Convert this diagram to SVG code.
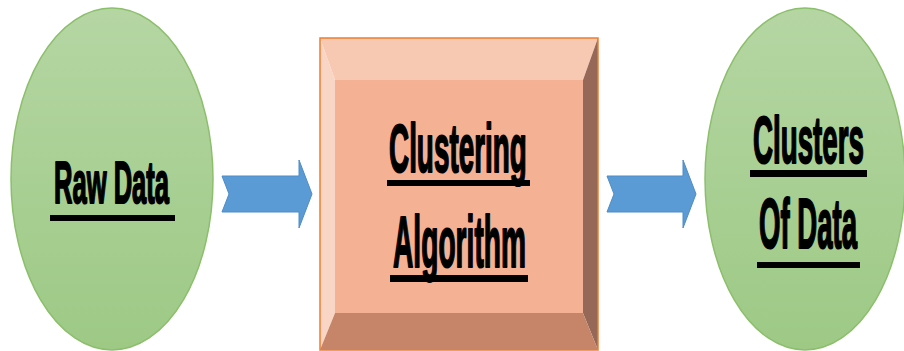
<svg xmlns="http://www.w3.org/2000/svg" width="904" height="351" viewBox="0 0 904 351">
  <defs>
    <linearGradient id="greenFill" x1="0" y1="0" x2="0" y2="1">
      <stop offset="0" stop-color="#B5D6A3"/>
      <stop offset="1" stop-color="#9DC985"/>
    </linearGradient>
    <style>
      .oval { fill: url(#greenFill); stroke: #8CBF6C; stroke-width: 1.5; }
      .arrow { fill: #5B9BD5; stroke: #4F8CC6; stroke-width: 1; }
      .label { font-family: "Liberation Sans", Arial, sans-serif; font-weight: bold; fill: #000000;
               stroke: #000000; stroke-width: 1.6; stroke-linejoin: round; }
      .uline { fill: #000000; }
      .bevel-top { fill: #F7C9B2; }
      .bevel-left { fill: #F9D5C5; }
      .bevel-right { fill: #956857; }
      .bevel-bottom { fill: #C68468; }
      .face { fill: #F5B194; }
      .frame { fill: none; stroke: #ED7D31; stroke-width: 1.5; }
    </style>
  </defs>

  <!-- input node -->
  <g id="raw-data">
    <ellipse class="oval" cx="112" cy="179" rx="101" ry="171"/>
    <text class="label" transform="translate(54,203) scale(0.426,1)" font-size="60" vector-effect="non-scaling-stroke">Raw Data</text>
    <rect class="uline" x="50" y="215" width="125" height="6"/>
  </g>

  <!-- process node: bevelled block -->
  <g id="clustering-algorithm">
    <polygon class="bevel-top" points="320,38 598,38 583,80 335,80"/>
    <polygon class="bevel-left" points="320,38 335,80 335,313 320,350"/>
    <polygon class="bevel-right" points="598,38 598,350 583,313 583,80"/>
    <polygon class="bevel-bottom" points="335,313 583,313 598,350 320,350"/>
    <rect class="face" x="335" y="80" width="248" height="233"/>
    <rect class="frame" x="320" y="38" width="278" height="312"/>
    <text class="label" transform="translate(389,172) scale(0.404,1)" font-size="69" vector-effect="non-scaling-stroke">Clustering</text>
    <rect class="uline" x="387" y="180" width="143" height="6"/>
    <text class="label" transform="translate(393,267) scale(0.386,1)" font-size="73" vector-effect="non-scaling-stroke">Algorithm</text>
    <rect class="uline" x="390" y="275" width="138" height="7"/>
  </g>

  <!-- output node -->
  <g id="clusters-of-data">
    <ellipse class="oval" cx="805" cy="179" rx="100" ry="171"/>
    <text class="label" transform="translate(753,163) scale(0.414,1)" font-size="67" vector-effect="non-scaling-stroke">Clusters</text>
    <rect class="uline" x="750" y="170" width="117" height="7"/>
    <text class="label" transform="translate(759,248) scale(0.388,1)" font-size="71" vector-effect="non-scaling-stroke">Of Data</text>
    <rect class="uline" x="757" y="262" width="103" height="6"/>
  </g>

  <!-- connectors -->
  <g id="connectors">
    <path class="arrow" d="M222,176 L299,176 L299,160 L312,194 L299,228 L299,212 L222,212 L229,194 Z"/>
    <path class="arrow" d="M607,176 L683,176 L683,160 L696,194 L683,228 L683,212 L607,212 L614,194 Z"/>
  </g>
</svg>
